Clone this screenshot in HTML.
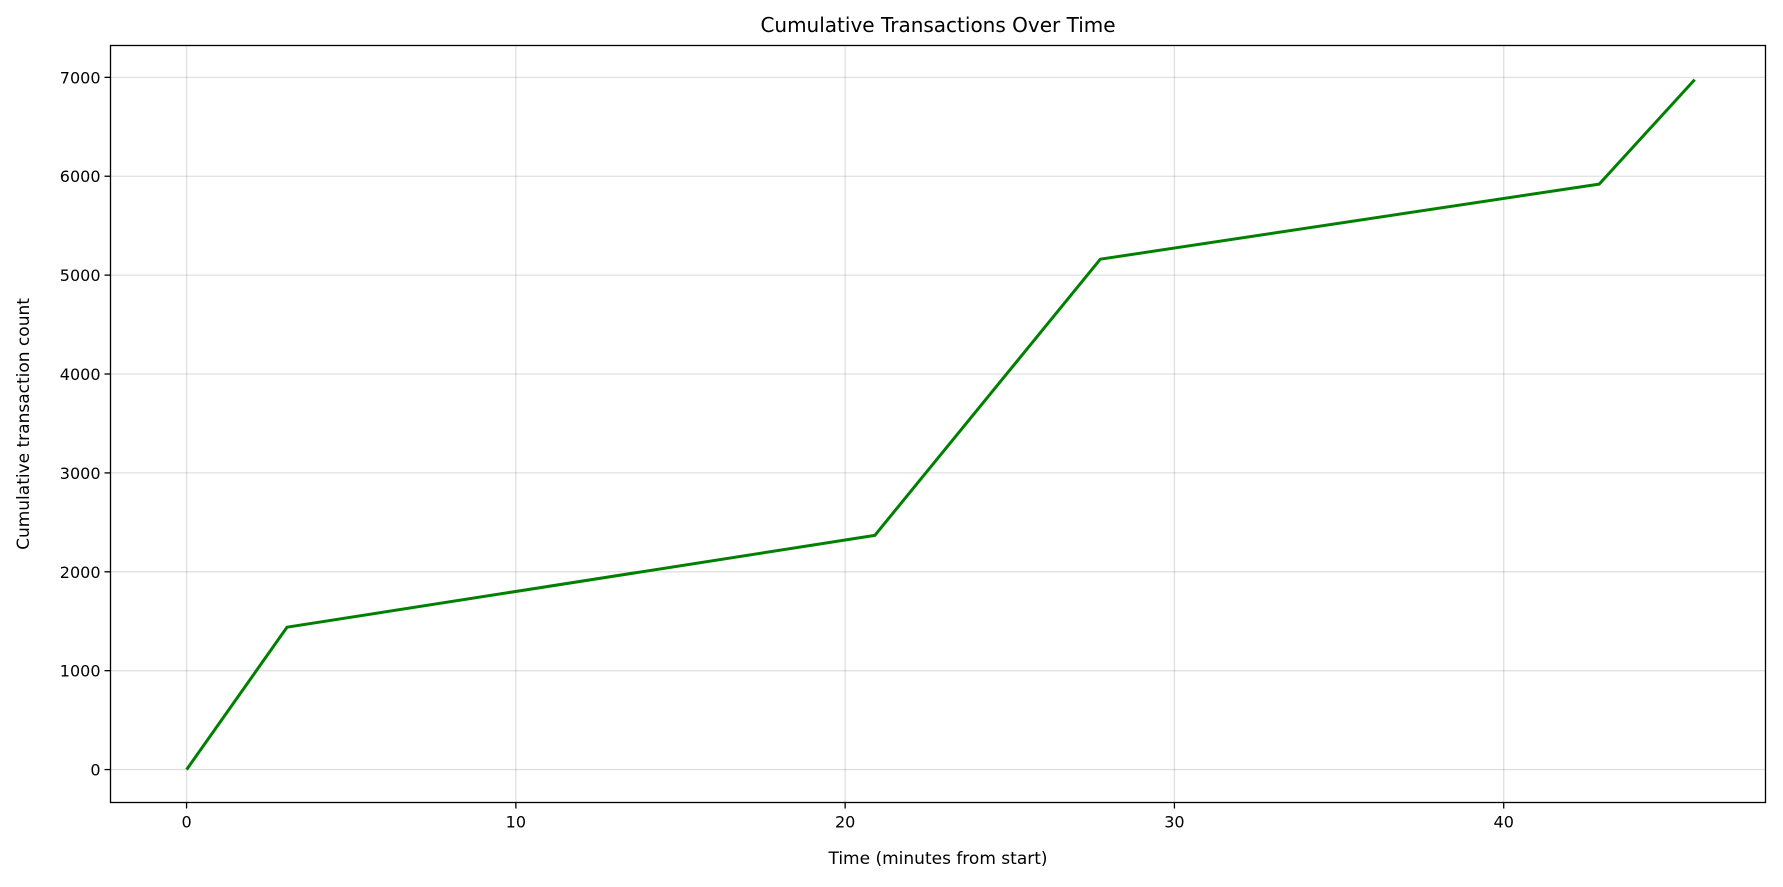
<!DOCTYPE html>
<html><head><meta charset="utf-8"><style>
body{margin:0;background:#fff;font-family:"Liberation Sans","DejaVu Sans",sans-serif}
svg text{font-family:"DejaVu Sans","Liberation Sans",sans-serif}
</style></head><body>
<svg id="chart" width="1783" height="882" viewBox="0 0 1783 882" xmlns="http://www.w3.org/2000/svg">
<rect width="1783" height="882" fill="#fff"/>
<g id="grid"></g>
<path id="line" fill="none" stroke="#008000" stroke-width="3" stroke-linejoin="round"/>
<rect x="110.5" y="45.5" width="1655" height="757" fill="none" stroke="#000" stroke-width="1.3"/>
<g id="ticks"></g>
<text x="938" y="32" text-anchor="middle" font-size="20">Cumulative Transactions Over Time</text>
<text x="938" y="864" text-anchor="middle" font-size="17">Time (minutes from start)</text>
<text transform="translate(29,424) rotate(-90)" text-anchor="middle" font-size="17">Cumulative transaction count</text>
</svg>
<script>
const timeMinutes = [0, 3.05, 20.9, 27.75, 42.9, 45.8];
const cumulativeCount = [0, 1440, 2368, 5161, 5920, 6977];
const xTickValues = [0, 10, 20, 30, 40];
const yTickValues = [0, 1000, 2000, 3000, 4000, 5000, 6000, 7000];

const PL=110.5, PR=1765.5, PT=45.5, PB=802.5;
const XMIN=-2.31, XMAX=47.95, YMIN=-333, YMAX=7322;
const sx = v => PL + (v - XMIN) / (XMAX - XMIN) * (PR - PL);
const sy = v => PB - (v - YMIN) / (YMAX - YMIN) * (PB - PT);
const NS = "http://www.w3.org/2000/svg";
const grid = document.getElementById('grid'), ticks = document.getElementById('ticks');
function mk(tag, attrs, parent){const e=document.createElementNS(NS,tag);for(const k in attrs)e.setAttribute(k,attrs[k]);parent.appendChild(e);return e;}

xTickValues.forEach(v=>{
  const x=sx(v);
  const g=mk('line',{x1:x,x2:x,y1:PT,y2:PB,stroke:'#000','stroke-opacity':0.12,'stroke-width':1.3},grid);
  
  
  const t=mk('line',{x1:x,x2:x,y1:PB,y2:PB+6,stroke:'#000','stroke-width':1.3},ticks);
  
  
  const l=mk('text',{x:x,y:PB+25,'text-anchor':'middle','font-size':16},ticks);
  l.textContent=v;
  
  
});
yTickValues.forEach(v=>{
  const y=sy(v);
  const g=mk('line',{x1:PL,x2:PR,y1:y,y2:y,stroke:'#000','stroke-opacity':0.12,'stroke-width':1.3},grid);
  
  
  const t=mk('line',{x1:PL-6,x2:PL,y1:y,y2:y,stroke:'#000','stroke-width':1.3},ticks);
  
  
  const l=mk('text',{x:PL-10,y:y+6,'text-anchor':'end','font-size':16},ticks);
  l.textContent=v;
  
  
});
document.getElementById('line').setAttribute('d',
  timeMinutes.map((t,i)=>(i?'L':'M')+sx(t).toFixed(1)+','+sy(cumulativeCount[i]).toFixed(1)).join(' '));
</script>
</body></html>
